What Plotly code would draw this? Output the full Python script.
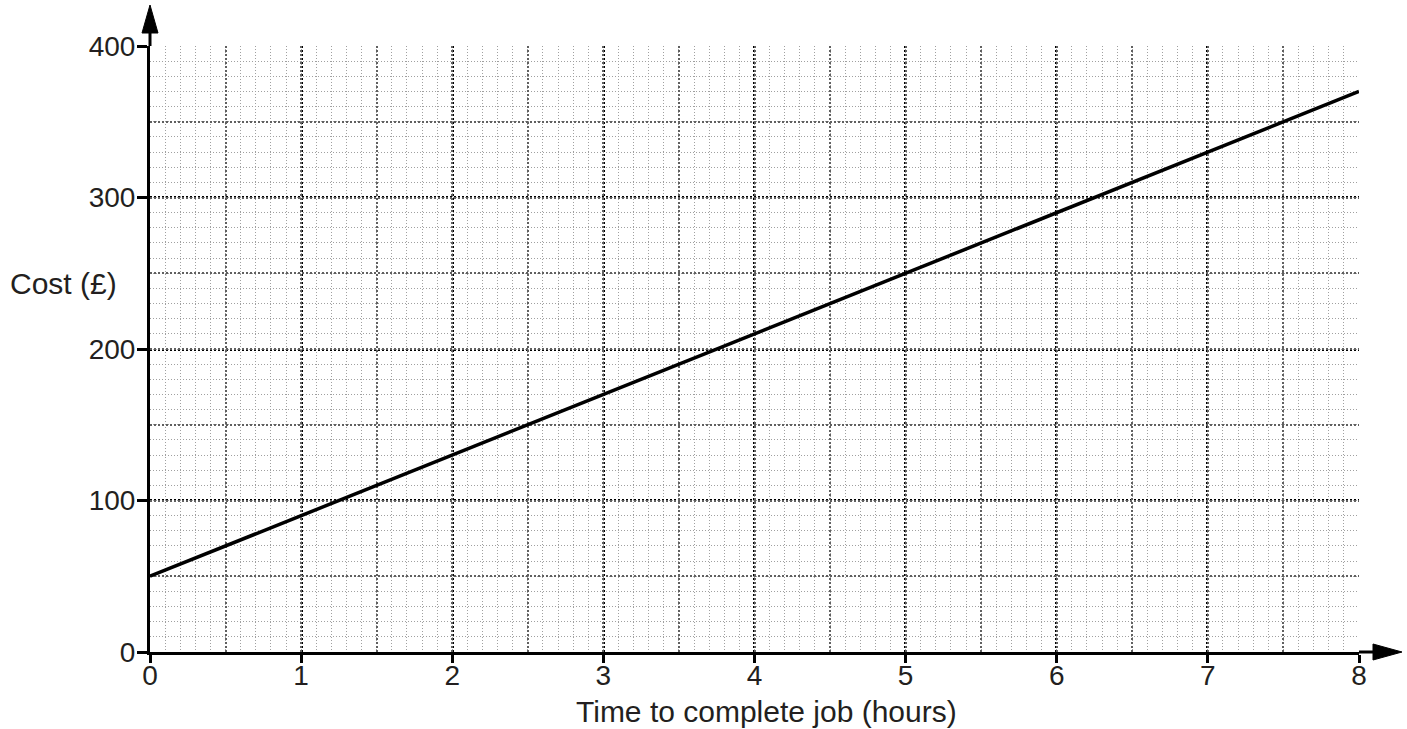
import plotly.graph_objects as go

# Data
hours = [0, 8]
cost = [50, 370]
x_range = [0, 8]
y_range = [0, 400]
x_ticks = [0, 1, 2, 3, 4, 5, 6, 7, 8]
y_ticks = [0, 100, 200, 300, 400]

FONT = "Liberation Sans, Arial, Helvetica, sans-serif"
TXT = "#231f20"

W, H = 1407, 729
ML, MR, MT, MB = 150, 48, 46, 77
PW, PH = W - ML - MR, H - MT - MB

fig = go.Figure()

fig.add_trace(go.Scatter(x=hours, y=cost, mode="lines",
                         line=dict(color="black", width=3.5), showlegend=False,
                         hoverinfo="skip"))
# invisible trace on overlay axes for the half-step grid
fig.add_trace(go.Scatter(x=hours, y=cost, mode="lines", xaxis="x2", yaxis="y2",
                         line=dict(color="rgba(0,0,0,0)", width=0), showlegend=False,
                         hoverinfo="skip"))

fig.update_layout(
    width=W, height=H,
    margin=dict(l=ML, r=MR, t=MT, b=MB),
    plot_bgcolor="white", paper_bgcolor="white",
    font=dict(family=FONT, size=28, color=TXT),
    xaxis=dict(range=x_range, tickvals=x_ticks, showgrid=True,
               gridcolor="black", griddash="2px,2px", gridwidth=2.5,
               showline=True, linecolor="black", linewidth=3,
               ticks="outside", ticklen=8, tickwidth=3, tickcolor="black",
               ticklabelstandoff=-12,
               zeroline=False, automargin=False,
               minor=dict(dtick=0.1, showgrid=True, gridcolor="#a0a0a0",
                          griddash="1px,2px", gridwidth=1, ticks="")),
    yaxis=dict(range=y_range, tickvals=y_ticks, showgrid=True,
               gridcolor="black", griddash="2px,2px", gridwidth=2.5,
               showline=True, linecolor="black", linewidth=3,
               ticks="outside", ticklen=10, tickwidth=3, tickcolor="black",
               ticklabelstandoff=-4,
               zeroline=False, automargin=False,
               minor=dict(dtick=10, showgrid=True, gridcolor="#a0a0a0",
                          griddash="1px,2px", gridwidth=1, ticks="")),
    xaxis2=dict(range=x_range, overlaying="x", dtick=0.5, showgrid=True,
                gridcolor="#606060", griddash="2px,2px", gridwidth=1.5,
                showticklabels=False, zeroline=False, showline=False),
    yaxis2=dict(range=y_range, overlaying="y", dtick=50, showgrid=True,
                gridcolor="#606060", griddash="2px,2px", gridwidth=1.5,
                showticklabels=False, zeroline=False, showline=False),
)

# Axis extensions and arrowheads (paper coordinates computed from pixel offsets)
px_x = 1.0 / PW
px_y = 1.0 / PH
y_tip = 1 + 41 * px_y
y_base = y_tip - 28 * px_y
fig.add_shape(type="line", xref="paper", yref="paper", x0=0, x1=0, y0=1, y1=y_base + 2 * px_y,
              line=dict(color="black", width=3))
fig.add_shape(type="path", xref="paper", yref="paper",
              path=f"M {-8*px_x} {y_base} L 0 {y_tip} L {8*px_x} {y_base} Z",
              fillcolor="black", line=dict(color="black", width=1))
x_tip = 1 + 43 * px_x
x_base = x_tip - 29 * px_x
fig.add_shape(type="line", xref="paper", yref="paper", x0=1, x1=x_base + 2 * px_x, y0=0, y1=0,
              line=dict(color="black", width=3))
fig.add_shape(type="path", xref="paper", yref="paper",
              path=f"M {x_base} {8*px_y} L {x_tip} 0 L {x_base} {-8*px_y} Z",
              fillcolor="black", line=dict(color="black", width=1))

# Axis titles
fig.add_annotation(xref="paper", yref="paper", x=(8 - ML) * px_x, y=(652 - 283) * px_y,
                   xanchor="left", yanchor="middle", showarrow=False,
                   text="Cost (£)", font=dict(size=30, color=TXT))
fig.add_annotation(xref="paper", yref="paper", x=(766 - ML) * px_x, y=-(711 - 652) * px_y,
                   xanchor="center", yanchor="middle", showarrow=False,
                   text="Time to complete job (hours)", font=dict(size=30, color=TXT))

fig.write_html("out.html", config={"displayModeBar": False},
               post_script="document.body.style.margin='0';")
